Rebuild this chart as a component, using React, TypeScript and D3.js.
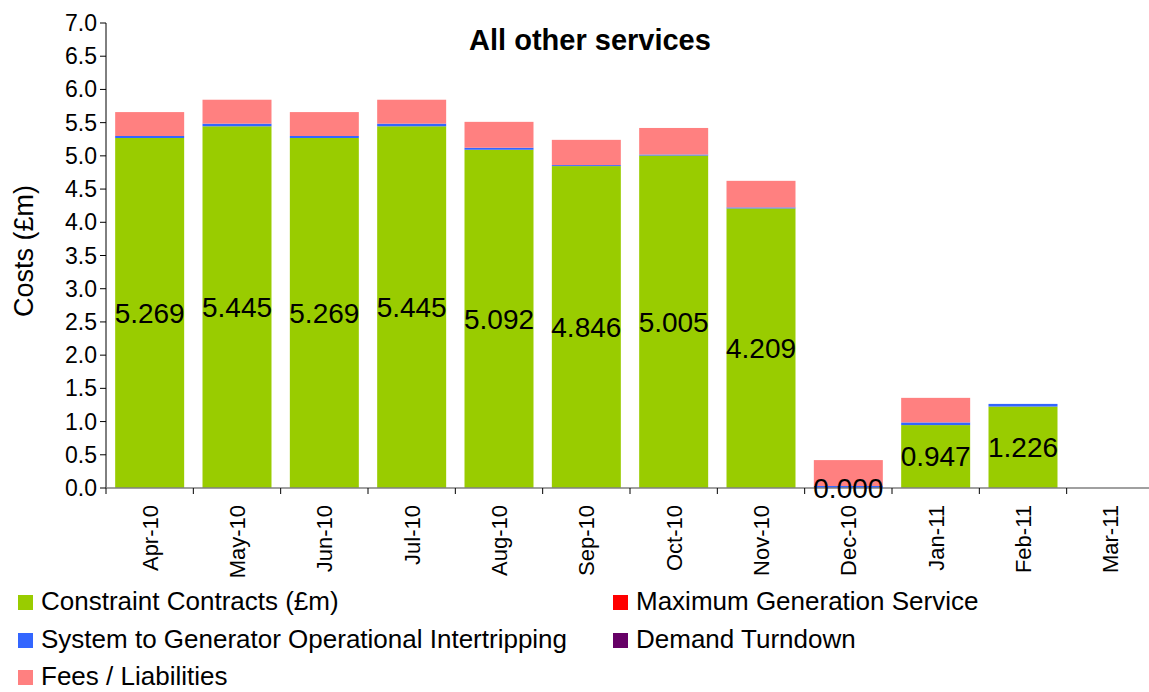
import React, { useEffect, useRef } from 'react';
import * as d3 from 'd3';

const months = ['Apr-10', 'May-10', 'Jun-10', 'Jul-10', 'Aug-10', 'Sep-10', 'Oct-10', 'Nov-10', 'Dec-10', 'Jan-11', 'Feb-11', 'Mar-11'];
const constraintContracts = [5.269, 5.445, 5.269, 5.445, 5.092, 4.846, 5.005, 4.209, 0.0, 0.947, 1.226, 0];
const maxGeneration = [0, 0, 0, 0, 0, 0, 0, 0, 0, 0, 0, 0];
const sgoi = [0.03, 0.04, 0.03, 0.04, 0.03, 0.015, 0.015, 0.015, 0.03, 0.04, 0.04, 0];
const demandTurndown = [0, 0, 0, 0, 0, 0, 0, 0, 0, 0, 0, 0];
const fees = [0.36, 0.36, 0.36, 0.36, 0.39, 0.38, 0.40, 0.40, 0.39, 0.37, 0, 0];
const constraintLabels = ['5.269', '5.445', '5.269', '5.445', '5.092', '4.846', '5.005', '4.209', '0.000', '0.947', '1.226', ''];

const seriesNames = ['Constraint Contracts (£m)', 'Maximum Generation Service', 'System to Generator Operational Intertripping', 'Demand Turndown', 'Fees / Liabilities'];
const seriesColors = ['#99cc00', '#ff0000', '#3366ff', '#660066', '#ff8080'];
const yTicks = d3.range(0, 7.01, 0.5);

const FONT = '"Liberation Sans", Arial, Helvetica, sans-serif';

export default function App() {
  const svgRef = useRef<SVGSVGElement | null>(null);

  useEffect(() => {
    if (!svgRef.current) return;
    const svg = d3.select(svgRef.current);
    svg.selectAll('*').remove();

    const left = 106, right = 1154, top = 23, bottom = 488;
    const x = d3.scaleBand<string>().domain(months).range([left, right]).padding(0);
    const y = d3.scaleLinear().domain([0, 7]).range([bottom, top]);
    const barW = x.bandwidth() * 0.79;

    const table = months.map((m, i) => ({
      month: m,
      s0: constraintContracts[i],
      s1: maxGeneration[i],
      s2: sgoi[i],
      s3: demandTurndown[i],
      s4: fees[i],
    }));
    const keys = ['s0', 's1', 's2', 's3', 's4'];
    const stacked = d3.stack<any>().keys(keys)(table);

    const g = svg.append('g');
    stacked.forEach((layer, li) => {
      g.append('g').selectAll('rect').data(layer).enter().append('rect')
        .attr('x', (d: any) => x(d.data.month)! + (x.bandwidth() - barW) / 2)
        .attr('width', barW)
        .attr('y', (d: any) => y(d[1]))
        .attr('height', (d: any) => Math.max(0, y(d[0]) - y(d[1])))
        .attr('fill', seriesColors[li]);
    });

    // y axis
    svg.append('line').attr('x1', left).attr('x2', left).attr('y1', top).attr('y2', bottom)
      .attr('stroke', '#000').attr('stroke-width', 1);
    yTicks.forEach((t) => {
      svg.append('line').attr('x1', left - 6).attr('x2', left).attr('y1', y(t)).attr('y2', y(t))
        .attr('stroke', '#000');
      svg.append('text').attr('x', 97).attr('y', y(t)).attr('dy', '0.35em')
        .attr('text-anchor', 'end').attr('font-size', 23).attr('font-family', FONT)
        .text(t.toFixed(1));
    });

    // x axis
    svg.append('line').attr('x1', left).attr('x2', right).attr('y1', bottom).attr('y2', bottom)
      .attr('stroke', '#808080').attr('stroke-width', 1.5);
    months.forEach((m, i) => {
      const bx = x(m)!;
      svg.append('line').attr('x1', bx).attr('x2', bx).attr('y1', bottom).attr('y2', bottom + 6)
        .attr('stroke', '#000');
      const cx = bx + x.bandwidth() / 2;
      svg.append('text')
        .attr('transform', `translate(${cx + 8},${bottom + 17}) rotate(-90)`)
        .attr('text-anchor', 'end').attr('font-size', 22).attr('font-family', FONT)
        .text(m);
      if (constraintLabels[i] !== '') {
        svg.append('text').attr('x', cx).attr('y', y(constraintContracts[i] / 2)).attr('dy', '0.35em')
          .attr('text-anchor', 'middle').attr('font-size', 28).attr('font-family', FONT)
          .text(constraintLabels[i]);
      }
    });

    // y label
    svg.append('text').attr('transform', `translate(33,251) rotate(-90)`)
      .attr('text-anchor', 'middle').attr('font-size', 27).attr('font-family', FONT)
      .text('Costs (£m)');

    // title
    svg.append('text').attr('x', 590).attr('y', 50).attr('text-anchor', 'middle')
      .attr('font-size', 29).attr('font-weight', 'bold').attr('font-family', FONT)
      .text('All other services');

    // legend
    const legendPos = [
      [18, 601], [613, 601], [18, 639], [613, 639], [18, 676],
    ];
    seriesNames.forEach((name, k) => {
      const [lx, ly] = legendPos[k];
      svg.append('rect').attr('x', lx).attr('y', ly - 6).attr('width', 15).attr('height', 15)
        .attr('fill', seriesColors[k]);
      svg.append('text').attr('x', lx + 23).attr('y', ly).attr('dy', '0.35em')
        .attr('font-size', 26).attr('font-family', FONT)
        .text(name);
    });
  }, []);

  return (
    <svg ref={svgRef} width={1149} height={692}
      style={{ position: 'absolute', left: 0, top: 0, background: '#fff' }} />
  );
}
